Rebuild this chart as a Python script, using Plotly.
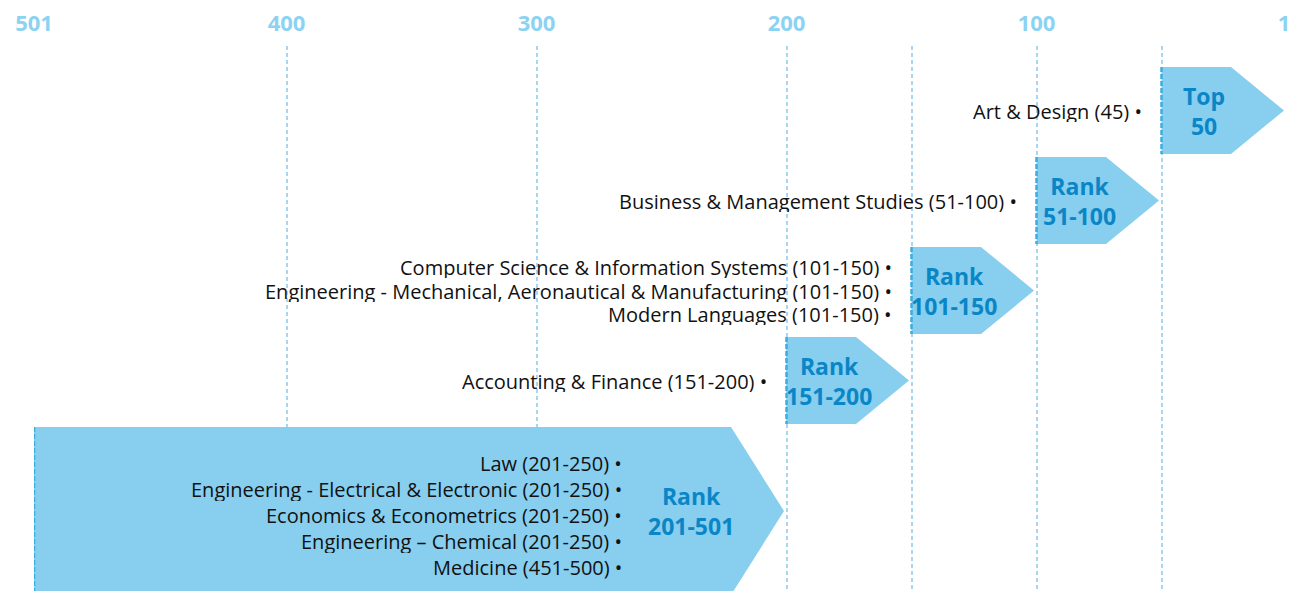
import plotly.graph_objects as go

# ---------------- data ----------------
band_labels = ["Top<br>50", "Rank<br>51-100", "Rank<br>101-150", "Rank<br>151-200", "Rank<br>201-501"]
band_best = [1, 51, 101, 151, 201]      # rank at arrow tip (right)
band_worst = [50, 100, 150, 200, 501]   # rank at arrow tail (left)
band_subjects = [
    ["Art & Design (45)"],
    ["Business & Management Studies (51-100)"],
    ["Computer Science & Information Systems (101-150)",
     "Engineering - Mechanical, Aeronautical & Manufacturing (101-150)",
     "Modern Languages (101-150)"],
    ["Accounting & Finance (151-200)"],
    ["Law (201-250)",
     "Engineering - Electrical & Electronic (201-250)",
     "Economics & Econometrics (201-250)",
     "Engineering \u2013 Chemical (201-250)",
     "Medicine (451-500)"],
]
tick_vals = [501, 400, 300, 200, 100, 1]
tick_text = ["501", "400", "300", "200", "100", "1"]
minor_grid_vals = [150, 50]

# ---------------- style / layout ----------------
W, H = 1291, 591
PLOT_L, PLOT_R, PLOT_T, PLOT_B = 34, 1284, 46, 591   # page pixels
ML, MR, MT, MB = PLOT_L, W - PLOT_R, PLOT_T, H - PLOT_B
X_MIN, X_MAX = 1, 501
PX_PER_RANK = (PLOT_R - PLOT_L) / (X_MAX - X_MIN)
def px2r(px):
    return px / PX_PER_RANK

FILL = "#87CEEF"
EDGE = "#3AAEE0"
LABEL_BLUE = "#0A86C6"
TICK_BLUE = "#8CD2F2"
GRID = "#A9D5EF"
FONT = "Open Sans"

ROW_TOP0 = 67
ROW_PITCH = 90
ROW_H = 87
BIG_H = 168
TIP_PX = 53

fig = go.Figure()
annotations = []

for i, (lab, best, worst, subs) in enumerate(zip(band_labels, band_best, band_worst, band_subjects)):
    inside = (worst - best) > 100
    top = ROW_TOP0 + i * ROW_PITCH
    h = BIG_H if inside else ROW_H
    bot = top + h
    mid = (top + bot) / 2
    body_end = best + px2r(TIP_PX)
    xs = [worst, body_end, best, body_end, worst, worst]
    ys = [top, top, mid, bot, bot, top]
    fig.add_trace(go.Scatter(x=xs, y=ys, mode="lines", fill="toself", fillcolor=FILL,
                             line=dict(width=0, color=FILL), hoverinfo="skip", showlegend=False))
    # dashed left edge
    fig.add_trace(go.Scatter(x=[worst, worst], y=[top, bot], mode="lines",
                             line=dict(color=EDGE, width=2.5, dash="5px,2px"),
                             hoverinfo="skip", showlegend=False))
    # band label
    lab_x = best + px2r(93 if inside else 80)
    annotations.append(dict(x=lab_x, y=mid, xref="x", yref="y", text="<b>" + lab + "</b>",
                            showarrow=False, xanchor="center", yanchor="middle",
                            font=dict(family=FONT, size=23, color=LABEL_BLUE)))
    # subjects
    if inside:
        right = best + px2r(160)
        gap = 25.8
        cy = mid + 4
    else:
        right = worst + px2r(18)
        gap = 23.5
        cy = mid
    n = len(subs)
    for j, s in enumerate(subs):
        yy = cy + (j - (n - 1) / 2) * gap
        annotations.append(dict(x=right, y=yy, xref="x", yref="y", text=s + " \u2022",
                                showarrow=False, xanchor="right", yanchor="middle",
                                height=int(gap) - 1,
                                font=dict(family=FONT, size=20, color="#111111")))

fig.update_layout(
    width=W, height=H,
    margin=dict(l=ML, r=MR, t=MT, b=MB, pad=0),
    paper_bgcolor="white", plot_bgcolor="white",
    showlegend=False,
    annotations=annotations,
    xaxis=dict(range=[X_MAX, X_MIN], side="top", tickmode="array",
               tickvals=tick_vals, ticktext=tick_text, ticks="",
               ticklabelstandoff=10, ticklabeloverflow="allow",
               tickfont=dict(family=FONT, size=22, color=TICK_BLUE, weight="bold"),
               showgrid=True, gridcolor=GRID, gridwidth=2, griddash="4px,3px",
               minor=dict(tickvals=minor_grid_vals, showgrid=True, gridcolor=GRID,
                          gridwidth=2, griddash="4px,3px", ticks=""),
               zeroline=False, showline=False, fixedrange=True),
    yaxis=dict(range=[PLOT_B, PLOT_T], visible=False, showgrid=False, zeroline=False, fixedrange=True),
)

fig.write_html("out.html", config={"displayModeBar": False},
               post_script="document.body.style.margin='0';document.body.style.overflow='hidden';")
